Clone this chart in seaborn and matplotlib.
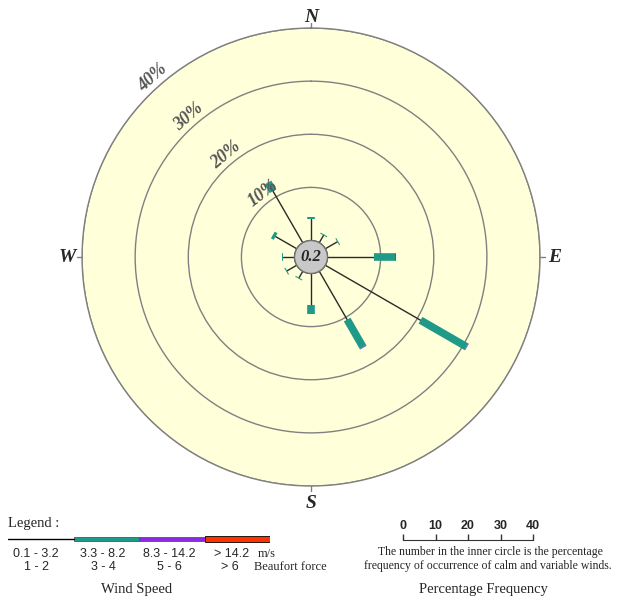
import numpy as np; import pandas as pd; import matplotlib.pyplot as plt; import seaborn as sns

# --- wind rose data: percent frequency per 30 deg sector ---
directions = [0, 30, 60, 90, 120, 150, 180, 210, 240, 270, 300, 330]
light_pct = [4.0, 1.6, 2.6, 8.8, 20.7, 10.5, 6.0, 1.4, 2.1, 2.2, 4.6, 11.2]     # 0.1 - 3.2 m/s
moderate_pct = [0.4, 0.2, 0.2, 4.0, 10.0, 6.0, 1.7, 0.2, 0.2, 0.1, 0.6, 1.8]  # 3.3 - 8.2 m/s
strong_pct = [0, 0, 0, 0.1, 0.1, 0.1, 0, 0, 0, 0, 0, 0.1]                    # 8.3 - 14.2 m/s
calm_pct = 0.2
rings = [10, 20, 30, 40]
compass = {"N": (0, 41.9), "E": (90, 42.7), "S": (180, 43.2), "W": (270, 42.7)}
speed_ms = ["0.1 - 3.2", "3.3 - 8.2", "8.3 - 14.2", "> 14.2"]
speed_bf = ["1 - 2", "3 - 4", "5 - 6", "> 6"]
speed_colors = ["black", "#1f9a88", "#8a2be2", "#ff3300"]
scale_ticks = [0, 10, 20, 30, 40]

sns.set_style("white")
plt.rcParams["font.family"] = ["Liberation Serif", "DejaVu Serif"]
GRAY = "#808080"; BG = "#ffffda"

fig = plt.figure(figsize=(6.2, 6.0), dpi=100)
px = lambda x, y: (x / 620, 1 - y / 600)

# --- polar rose ---
ax = fig.add_axes([0.1323, 0.19, 0.7387, 0.7633], projection="polar")
ax.set_theta_zero_location("N"); ax.set_theta_direction(-1)
ax.set_ylim(0, 40); ax.set_rorigin(-3.1)
ax.set_facecolor(BG)
ax.set_xticks([]); ax.set_yticks(rings); ax.set_yticklabels([])
ax.xaxis.grid(False); ax.yaxis.grid(True, color=GRAY, lw=1)
ax.spines["polar"].set_color(GRAY); ax.spines["polar"].set_linewidth(1)

th = np.deg2rad(directions)
r1 = np.array(light_pct); r2 = r1 + np.array(moderate_pct); r3 = r2 + np.array(strong_pct)

def segments(a, b):
    return pd.DataFrame({"dir": directions * 2, "theta": np.concatenate([th, th]),
                         "r": np.concatenate([a, b])})

sns.lineplot(data=segments(np.zeros_like(r1), r1), x="theta", y="r", units="dir", estimator=None,
             sort=False, color="#2a2a2a", lw=1, ax=ax, legend=False)
sns.lineplot(data=segments(r1, r2), x="theta", y="r", units="dir", estimator=None,
             sort=False, color=speed_colors[1], lw=5.5, solid_capstyle="butt", ax=ax, legend=False)
sns.lineplot(data=segments(r2, r3), x="theta", y="r", units="dir", estimator=None,
             sort=False, color=speed_colors[2], lw=5.5, solid_capstyle="butt", ax=ax, legend=False)
ax.set_xlabel(""); ax.set_ylabel("")

# ring labels
for r, b in zip(rings, [323, 320, 319, 318.5]):
    ax.text(np.deg2rad(b), r + 0.3, f"{r}%", rotation=360 - b, rotation_mode="anchor",
            ha="center", va="bottom", color="#555555", fontsize=13, fontweight="bold", style="italic")

# compass letters and small ticks
for lab, (b, rr) in compass.items():
    ax.text(np.deg2rad(b), rr, lab, ha="center", va="center", fontsize=14,
            fontweight="bold", style="italic")
    ax.plot([np.deg2rad(b)] * 2, [40, 41], color=GRAY, lw=1, clip_on=False)

# calm circle
ax.add_patch(plt.Circle((0.5, 0.5), 16.5 / 458, transform=ax.transAxes, fc="#c8c8c8",
                        ec="#707070", lw=1, zorder=5, clip_on=False))
ax.text(0.5, 0.5, f"{calm_pct}", transform=ax.transAxes, ha="center", va="center",
        fontsize=12, fontweight="bold", style="italic", zorder=6)

# --- wind speed legend ---
fig.text(*px(8, 523), "Legend :", fontsize=10.5, va="center")
lax = fig.add_axes([8 / 620, 1 - 545 / 600, 262 / 620, 12 / 600])
lax.set_xlim(0, 4); lax.set_ylim(-1, 1); lax.axis("off")
lax.plot([0, 1], [0, 0], color=speed_colors[0], lw=1)
lax.barh(0, 1, left=[1, 2, 3], height=[0.6, 0.8, 1.0], color=speed_colors[1:],
         edgecolor=["#555555", "#555555", "black"], lw=0.6)
sans = ["Liberation Sans", "DejaVu Sans"]
for i, (ms, bf) in enumerate(zip(speed_ms, speed_bf)):
    cx = [36, 103, 169, 232][i]
    fig.text(*px(cx, 554), ms, ha="center", va="center", fontsize=9, family=sans)
    fig.text(*px(cx - (2 if i == 3 else 0), 567), bf, ha="center", va="center", fontsize=9, family=sans)
fig.text(*px(258, 554), "m/s", va="center", fontsize=9)
fig.text(*px(254, 567), "Beaufort force", va="center", fontsize=9)
fig.text(*px(137, 590), "Wind Speed", ha="center", va="center", fontsize=10.5)

# --- percentage scale bar ---
sax = fig.add_axes([403 / 620, 1 - 540 / 600, 130 / 620, 0.0001])
sax.set_xlim(0, 40)
for s in ["left", "right", "bottom"]:
    sax.spines[s].set_visible(False)
sax.spines["top"].set_color("#333333")
sax.set_yticks([])
sax.set_xticks(scale_ticks)
sax.xaxis.set_ticks_position("top")
sax.tick_params(axis="x", direction="out", length=4, width=1, color="#333333", pad=2, labelsize=9)
for t in sax.get_xticklabels():
    t.set_fontweight("bold"); t.set_family(sans)
fig.text(*px(490, 552), "The number in the inner circle is the percentage", ha="center",
         va="center", fontsize=8.5)
fig.text(*px(488, 566), "frequency of occurrence of calm and variable winds.", ha="center",
         va="center", fontsize=8.5)
fig.text(*px(483, 590), "Percentage Frequency", ha="center", va="center", fontsize=10.5)

fig.savefig("out.png", dpi=100, facecolor="white")
